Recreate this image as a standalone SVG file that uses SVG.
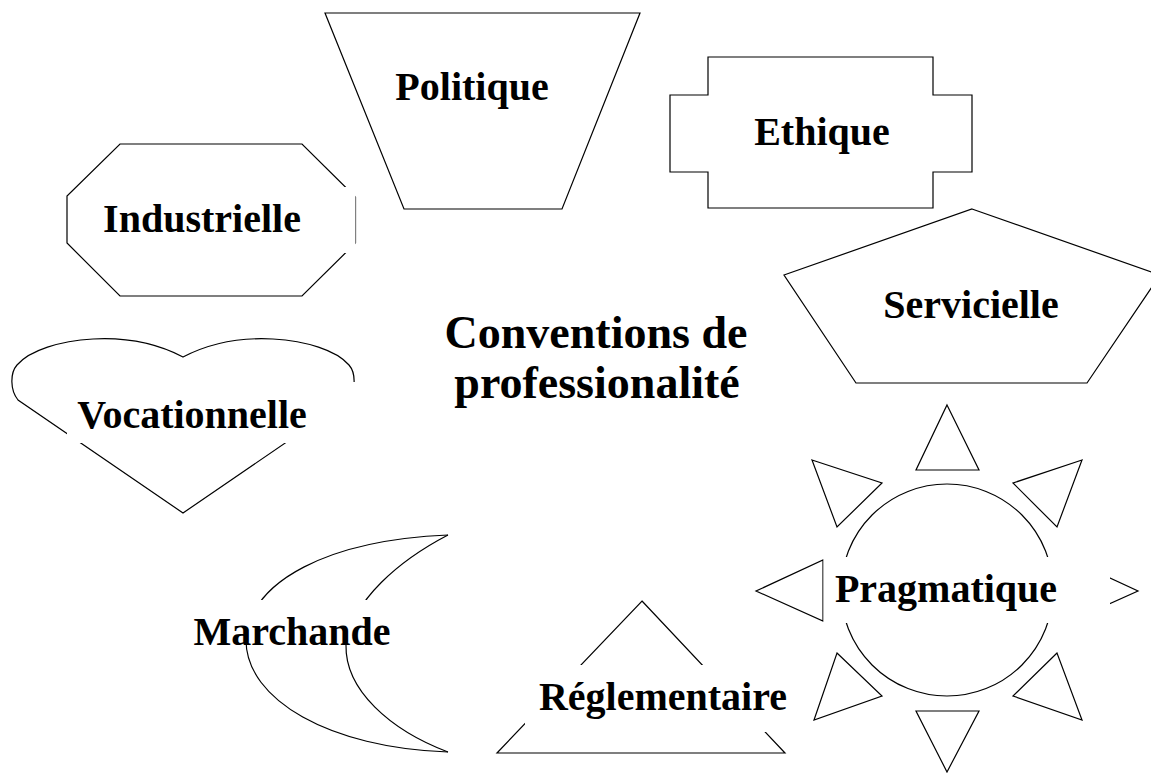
<svg xmlns="http://www.w3.org/2000/svg" width="1151" height="773" viewBox="0 0 1151 773">
<style>
.s{fill:none;stroke:#000;stroke-width:1.2}
.bg{fill:#fff;stroke:none}
.t{font-family:"Liberation Serif","Times New Roman",serif;font-weight:bold;font-size:40px;fill:#000;text-anchor:middle}
.c{font-size:46px}
</style>
<rect x="0" y="0" width="1151" height="773" fill="#fff"/>
<g id="politique">
<polygon class="s" points="325,13 640,13 562,209 404,209"/>
<text class="t" x="472" y="100">Politique</text>
</g>
<g id="ethique">
<polygon class="s" points="708,57 933,57 933,95 972,95 972,172 933,172 933,208 708,208 708,172 670,172 670,95 708,95"/>
<text class="t" x="822" y="145">Ethique</text>
</g>
<g id="industrielle">
<polygon class="s" points="120,144 302,144 355.5,197 355.5,243 302,296 120,296 67,243 67,196"/>
<rect class="bg" x="90" y="187" width="265.5" height="66"/>
<text class="t" x="202" y="232">Industrielle</text>
</g>
<g id="servicielle">
<polygon class="s" points="972,209 1160,275 1087,383 856,383 784,275"/>
<text class="t" x="971" y="318">Servicielle</text>
</g>
<g id="vocationnelle">
<path class="s" d="M18,400 C10,390 10,373 17,365 C30,350 60,341 93,339 C130,337 160,345 183,357 C206,345 236,337 273,339 C306,341 336,350 349,365 C356,373 356,390 348,400 L183,513 Z"/>
<rect class="bg" x="67" y="382" width="295" height="61"/>
<text class="t" x="192" y="428">Vocationnelle</text>
</g>
<g id="centre">
<text class="t c" x="596" y="348">Conventions de</text>
<text class="t c" x="597" y="398">professionalité</text>
</g>
<g id="marchande">
<path class="s" d="M448,535 C330,540 250,580 246,640 C246,700 330,748 448,752"/>
<path class="s" d="M448,535 C400,560 352,600 346,645 C345,690 390,730 448,752"/>
<rect class="bg" x="190" y="600" width="210" height="40"/>
<text class="t" x="292" y="645">Marchande</text>
</g>
<g id="reglementaire">
<polygon class="s" points="642,601 785,753 497,753"/>
<rect class="bg" x="525" y="665" width="270" height="67"/>
<text class="t" x="663" y="710">Réglementaire</text>
</g>
<g id="pragmatique">
<circle class="s" cx="947" cy="590" r="106"/>
<polygon class="s" points="947,405 979,470 916,470"/>
<polygon class="s" points="916,711 979,711 947,772"/>
<polygon class="s" points="823,560 823,621 756,591"/>
<polygon class="s" points="1071,560 1071,621 1138,591"/>
<polygon class="s" points="812,460 882,483 837,527"/>
<polygon class="s" points="1082,460 1013,483 1057,527"/>
<polygon class="s" points="837,653 882,696 814,720"/>
<polygon class="s" points="1057,653 1013,696 1082,720"/>
<rect class="bg" x="823.5" y="557" width="286.5" height="66"/>
<text class="t" x="946" y="602">Pragmatique</text>
</g>
</svg>
